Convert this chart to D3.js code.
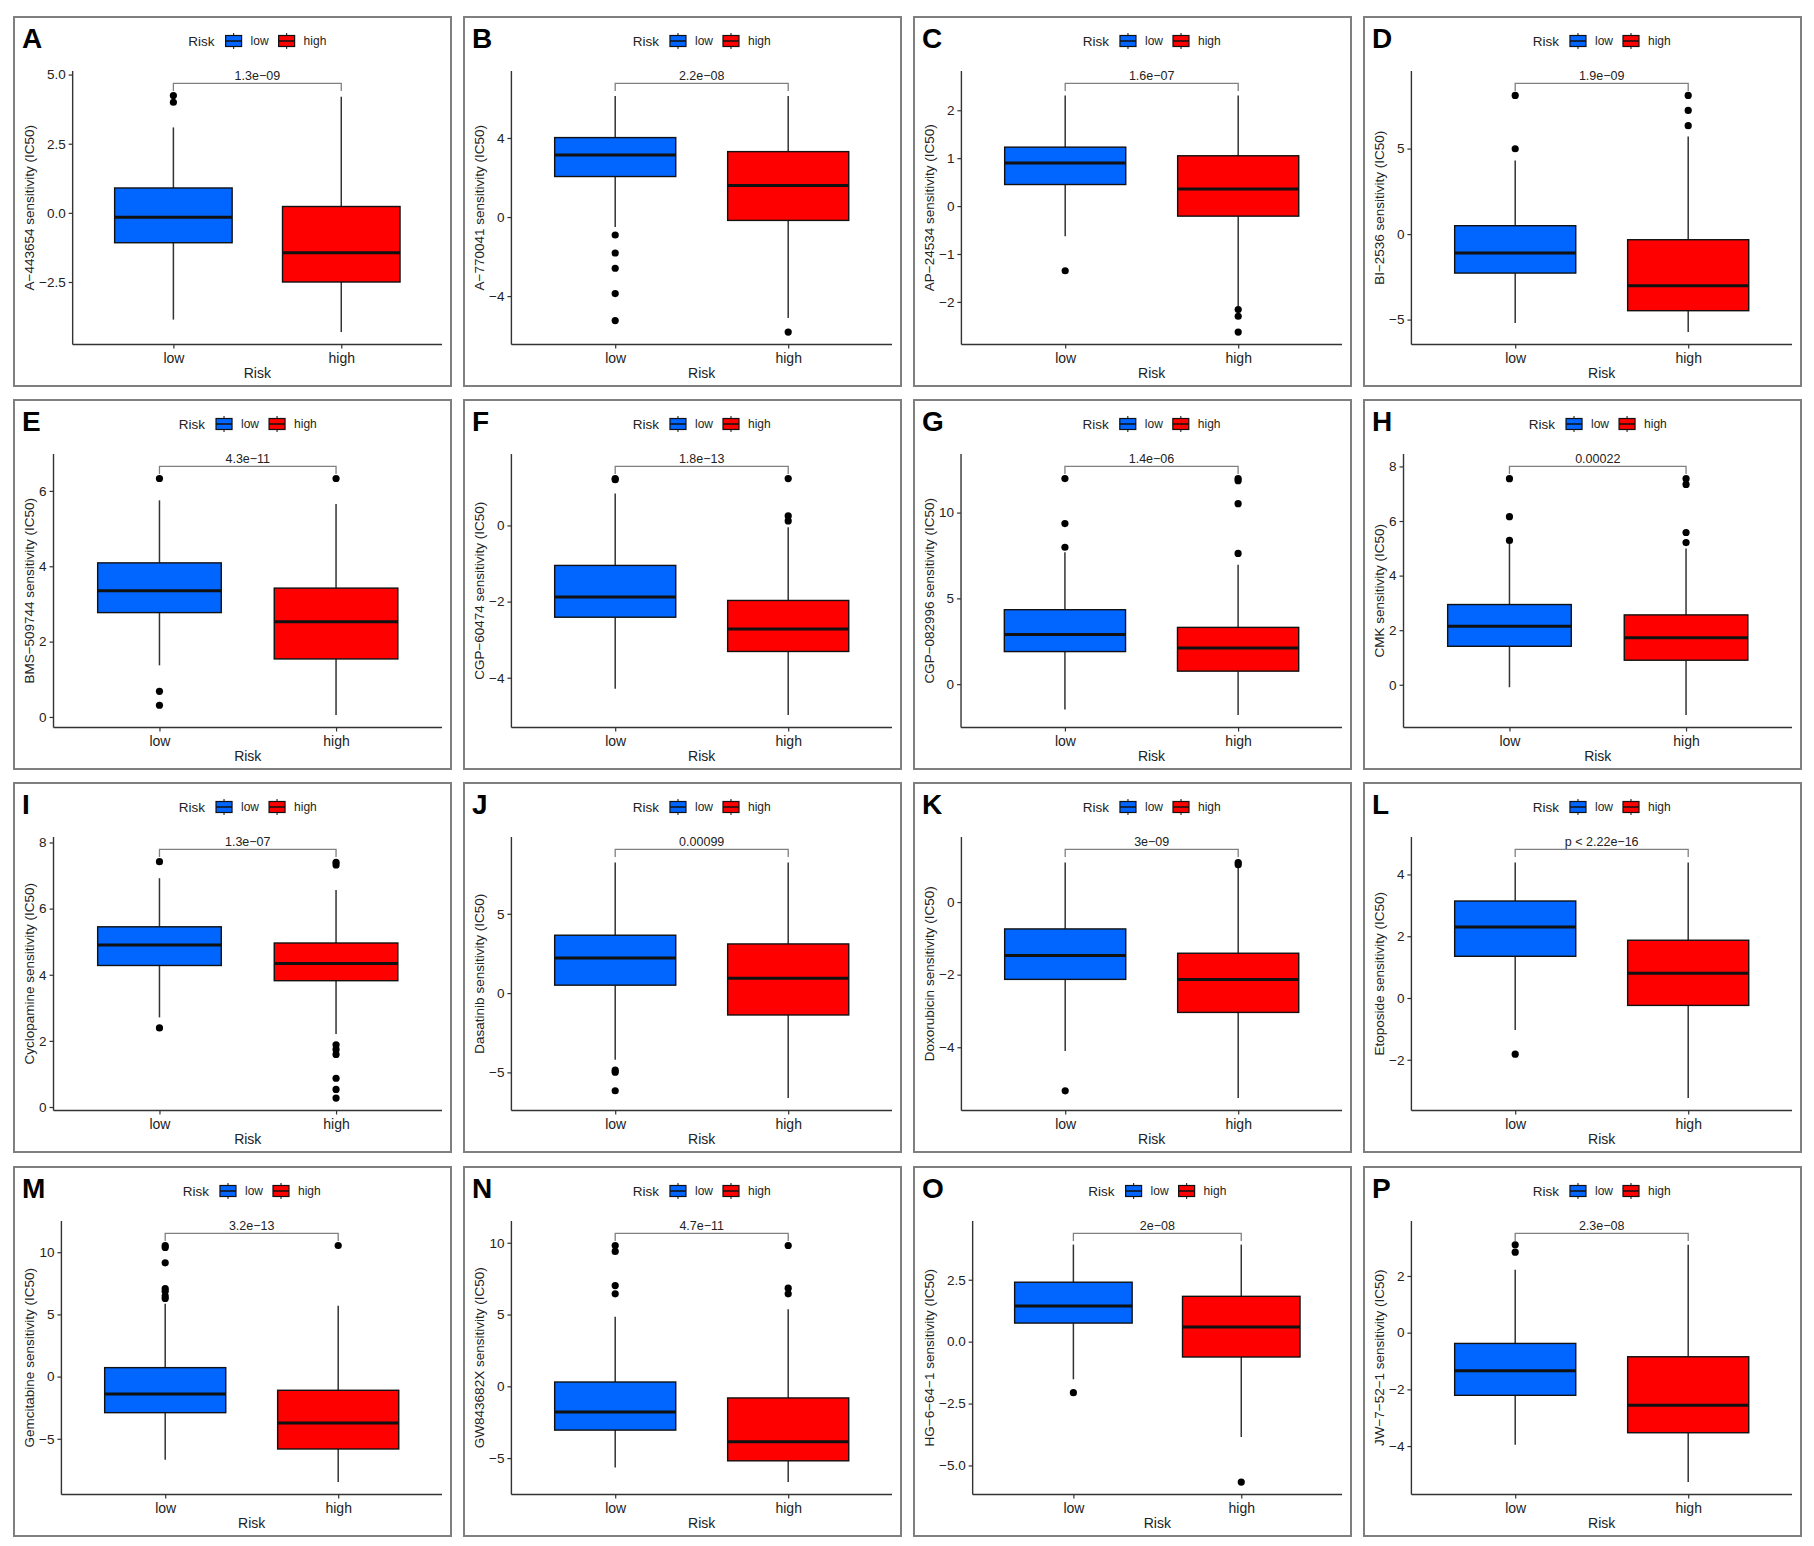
<!DOCTYPE html>
<html>
<head>
<meta charset="utf-8">
<script src="https://cdn.jsdelivr.net/npm/d3@7"></script>
<style>
  body { margin: 0; background: #fff; }
  svg { display: block; font-family: "Liberation Sans", Arial, sans-serif; }
</style>
</head>
<body>
<div id="chart"></div>
<script>
// panel letters and drug names
var letters = ["A","B","C","D","E","F","G","H","I","J","K","L","M","N","O","P"];
var drugs = ["A\u2212443654","A\u2212770041","AP\u221224534","BI\u22122536","BMS\u2212509744","CGP\u221260474",
  "CGP\u2212082996","CMK","Cyclopamine","Dasatinib","Doxorubicin","Etoposide","Gemcitabine","GW843682X",
  "HG\u22126\u221264\u22121","JW\u22127\u221252\u22121"];
var groups = ["low", "high"];
var pLabels = ["1.3e\u221209","2.2e\u221208","1.6e\u221207","1.9e\u221209","4.3e\u221211","1.8e\u221213","1.4e\u221206",
  "0.00022","1.3e\u221207","0.00099","3e\u221209","p < 2.22e\u221216","3.2e\u221213","4.7e\u221211","2e\u221208","2.3e\u221208"];

// box stats: [whisker min, q1, median, q3, whisker max]
var lowStats = [
  [-3.86, -1.08, -0.16, 0.90, 3.09],
  [-0.50, 2.05, 3.14, 4.02, 6.12],
  [-0.63, 0.45, 0.90, 1.23, 2.31],
  [-5.20, -2.28, -1.11, 0.49, 4.31],
  [1.37, 2.77, 3.35, 4.09, 5.75],
  [-4.29, -2.41, -1.88, -1.05, 0.84],
  [-1.47, 1.90, 2.89, 4.34, 7.69],
  [-0.09, 1.41, 2.14, 2.94, 5.16],
  [2.71, 4.28, 4.90, 5.45, 6.92],
  [-4.21, 0.50, 2.22, 3.65, 8.24],
  [-4.10, -2.13, -1.47, -0.74, 1.09],
  [-1.04, 1.35, 2.30, 3.14, 4.39],
  [-6.68, -2.90, -1.40, 0.72, 5.85],
  [-5.65, -3.05, -1.79, 0.30, 4.84],
  [-1.52, 0.75, 1.44, 2.40, 3.92],
  [-3.95, -2.21, -1.34, -0.38, 2.22]
];
var highStats = [
  [-4.31, -2.50, -1.44, 0.23, 4.20],
  [-5.11, -0.17, 1.60, 3.31, 6.12],
  [-2.09, -0.21, 0.355, 1.05, 2.31],
  [-5.73, -4.48, -3.02, -0.33, 5.71],
  [0.05, 1.54, 2.53, 3.42, 5.65],
  [-4.98, -3.31, -2.72, -1.97, -0.05],
  [-1.80, 0.76, 2.11, 3.31, 6.96],
  [-1.11, 0.90, 1.72, 2.56, 4.99],
  [2.21, 3.82, 4.34, 4.96, 6.56],
  [-6.62, -1.38, 0.94, 3.10, 8.24],
  [-5.40, -3.04, -2.13, -1.41, 0.98],
  [-3.24, -0.24, 0.80, 1.87, 4.39],
  [-8.48, -5.82, -3.73, -1.10, 5.69],
  [-6.67, -5.19, -3.86, -0.81, 5.37],
  [-3.85, -0.62, 0.59, 1.83, 3.92],
  [-5.27, -3.53, -2.56, -0.85, 3.10]
];
var lowOutliers = [
  [4.24, 4.00], [-0.91, -1.82, -2.59, -3.87, -5.24], [-1.35], [8.11, 4.99],
  [6.33, 0.68, 0.31], [1.23, 1.20], [11.98, 9.36, 7.98], [7.55, 6.16, 5.29],
  [7.42, 2.39], [-4.86, -4.99, -6.16], [-5.20], [-1.82],
  [10.54, 10.38, 9.15, 7.08, 6.87, 6.47, 6.28], [9.81, 9.40, 7.02, 6.44], [-2.06], [3.10, 2.84]
];
var highOutliers = [
  [], [-5.82], [-2.16, -2.30, -2.63], [8.11, 7.23, 6.34],
  [6.33], [1.23, 0.25, 0.12], [11.98, 11.86, 10.52, 7.62], [7.55, 7.34, 5.58, 5.21],
  [7.40, 7.32, 1.88, 1.74, 1.59, 0.87, 0.53, 0.27], [], [1.09, 1.03], [],
  [10.54], [9.81, 6.84, 6.44], [-5.67], []
];
// height of the comparison bracket
var bracketY = [4.68, 6.76, 2.56, 8.81, 6.65, 1.55, 12.69, 8.0, 7.79, 9.06, 1.45, 4.81, 11.51, 10.65, 4.37, 3.50];
var yTicks = [
  [-2.5, 0, 2.5, 5], [-4, 0, 4], [-2, -1, 0, 1, 2], [-5, 0, 5],
  [0, 2, 4, 6], [-4, -2, 0], [0, 5, 10], [0, 2, 4, 6, 8],
  [0, 2, 4, 6, 8], [-5, 0, 5], [-4, -2, 0], [-2, 0, 2, 4],
  [-5, 0, 5, 10], [-5, 0, 5, 10], [-5, -2.5, 0, 2.5], [-4, -2, 0, 2]
];

var color = d3.scaleOrdinal().domain(groups).range(["#0066FF", "#FF0000"]);

var W = 1814, H = 1546;
var panelW = 437, panelH = 369;
var colX = [14, 464, 914, 1364];
var rowY = [17, 400, 783, 1167];

var svg = d3.select("#chart").append("svg")
  .attr("width", W).attr("height", H);
svg.append("rect").attr("width", W).attr("height", H).attr("fill", "#fff");

letters.forEach(function (letter, i) {
  var g = svg.append("g")
    .attr("transform", "translate(" + colX[i % 4] + "," + rowY[Math.floor(i / 4)] + ")");

  // panel frame
  g.append("rect")
    .attr("x", 0).attr("y", 0)
    .attr("width", panelW).attr("height", panelH)
    .attr("fill", "#fff").attr("stroke", "#7f7f7f").attr("stroke-width", 2);

  var ticks = yTicks[i];
  var fmt = ticks.some(function (t) { return t % 1 !== 0; }) ? d3.format(".1f") : d3.format("d");

  // measure widest tick label so the y axis sits where ggplot puts it
  var probe = g.append("text").style("font-size", "13.5px");
  var maxW = d3.max(ticks, function (t) { probe.text(fmt(t)); return probe.node().getComputedTextLength(); });
  probe.remove();

  var left = 32 + maxW, right = 428, top = 54, bottom = 327.5;

  var allVals = lowStats[i].concat(highStats[i], lowOutliers[i], highOutliers[i]);
  var lo = d3.min(allVals), hi = bracketY[i];
  var span = hi - lo;
  var y = d3.scaleLinear()
    .domain([lo - 0.05 * span, hi + 0.05 * span])
    .range([bottom, top]);
  var x = d3.scalePoint().domain(groups).range([left, right]).padding(0.6);
  var boxW = x.step() * 0.7;

  // axes
  var yAxis = g.append("g")
    .attr("transform", "translate(" + left + ",0)")
    .call(d3.axisLeft(y).tickValues(ticks).tickFormat(fmt).tickSize(4).tickPadding(3));
  yAxis.select(".domain").attr("d", "M0," + top + "V" + bottom);
  var xAxis = g.append("g")
    .attr("transform", "translate(0," + bottom + ")")
    .call(d3.axisBottom(x).tickSize(4).tickPadding(5));
  xAxis.select(".domain").attr("d", "M" + left + ",0H" + right);
  [yAxis, xAxis].forEach(function (a) {
    a.select(".domain").attr("stroke", "#333").attr("stroke-width", 1.4);
    a.selectAll(".tick line").attr("stroke", "#333").attr("stroke-width", 1.2);
    a.selectAll(".tick text").attr("fill", "#222").style("font-size", "13.5px").style("font-family", "inherit");
  });
  xAxis.selectAll(".tick text").style("font-size", "14px");

  // axis titles
  g.append("text")
    .attr("transform", "translate(15," + ((top + bottom) / 2) + ") rotate(-90)")
    .attr("text-anchor", "middle")
    .attr("dy", "0.35em")
    .style("font-size", "13.5px").attr("fill", "#222")
    .text(drugs[i] + " sensitivity (IC50)");
  g.append("text")
    .attr("x", (left + right) / 2).attr("y", 361)
    .attr("text-anchor", "middle")
    .style("font-size", "14px").attr("fill", "#222")
    .text("Risk");

  // panel letter
  g.append("text")
    .attr("x", 8).attr("y", 31)
    .style("font-size", "28px").style("font-weight", "bold")
    .text(letter);

  // boxes
  var stats = [lowStats[i], highStats[i]];
  var outs = [lowOutliers[i], highOutliers[i]];
  groups.forEach(function (grp, k) {
    var s = stats[k], cx = x(grp);
    g.append("line")
      .attr("x1", cx).attr("x2", cx).attr("y1", y(s[4])).attr("y2", y(s[3]))
      .attr("stroke", "#333").attr("stroke-width", 1.5);
    g.append("line")
      .attr("x1", cx).attr("x2", cx).attr("y1", y(s[1])).attr("y2", y(s[0]))
      .attr("stroke", "#333").attr("stroke-width", 1.5);
    g.append("rect")
      .attr("x", cx - boxW / 2).attr("y", y(s[3]))
      .attr("width", boxW).attr("height", y(s[1]) - y(s[3]))
      .attr("fill", color(grp)).attr("stroke", "#111").attr("stroke-width", 1.4);
    g.append("line")
      .attr("x1", cx - boxW / 2).attr("x2", cx + boxW / 2)
      .attr("y1", y(s[2])).attr("y2", y(s[2]))
      .attr("stroke", "#111").attr("stroke-width", 3);
    g.selectAll("circle.o" + k)
      .data(outs[k])
      .enter()
      .append("circle")
      .attr("cx", cx).attr("cy", function (d) { return y(d); })
      .attr("r", 3.6).attr("fill", "#000");
  });

  // comparison bracket and p value
  var by = y(bracketY[i]), tip = y(bracketY[i] - 0.03 * span);
  g.append("path")
    .attr("d", "M" + x("low") + "," + tip + "V" + by + "H" + x("high") + "V" + tip)
    .attr("fill", "none").attr("stroke", "#808080").attr("stroke-width", 1.3);
  g.append("text")
    .attr("x", (x("low") + x("high")) / 2).attr("y", by - 3)
    .attr("text-anchor", "middle")
    .style("font-size", "12.5px").attr("fill", "#222")
    .text(pLabels[i]);

  // legend on top, centred over the plot area
  var leg = g.append("g");
  var lx = 0;
  var t0 = leg.append("text").attr("x", lx).attr("y", 0).attr("dy", "0.35em")
    .style("font-size", "13.5px").attr("fill", "#222").text("Risk");
  lx += t0.node().getComputedTextLength() + 11;
  groups.forEach(function (grp, k) {
    leg.append("line")
      .attr("x1", lx + 8).attr("x2", lx + 8).attr("y1", -8).attr("y2", 8)
      .attr("stroke", "#333").attr("stroke-width", 1.2);
    leg.append("rect")
      .attr("x", lx).attr("y", -5.5).attr("width", 16).attr("height", 11)
      .attr("fill", color(grp)).attr("stroke", "#111").attr("stroke-width", 1.2);
    leg.append("line")
      .attr("x1", lx).attr("x2", lx + 16).attr("y1", 0).attr("y2", 0)
      .attr("stroke", "#111").attr("stroke-width", 1.5);
    lx += 16 + 9;
    var t = leg.append("text").attr("x", lx).attr("y", 0).attr("dy", "0.35em")
      .style("font-size", "12px").attr("fill", "#222").text(grp);
    lx += t.node().getComputedTextLength() + (k === 0 ? 10 : 0);
  });
  leg.attr("transform", "translate(" + ((left + right) / 2 - lx / 2) + ",24)");
});
</script>
</body>
</html>
